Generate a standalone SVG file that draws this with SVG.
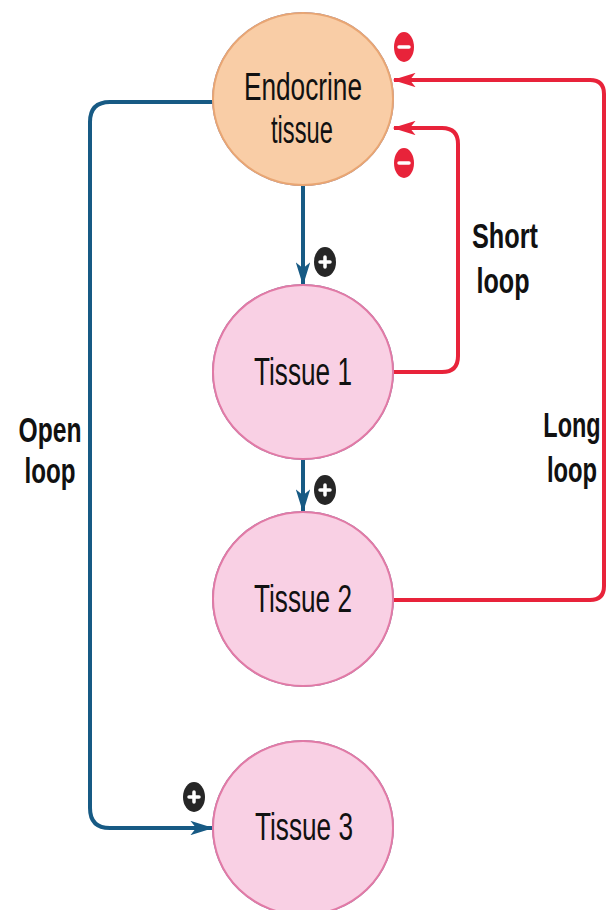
<svg xmlns="http://www.w3.org/2000/svg" width="606" height="910" viewBox="0 0 606 910">
  <style>
    .lbl { font-family: "Liberation Sans", Arial, sans-serif; fill: #111; }
    .node-text { font-size: 38px; text-anchor: middle; }
    .loop-text { font-size: 35px; font-weight: bold; text-anchor: middle; }
    .blue { fill: none; stroke: #175a84; stroke-width: 4; stroke-linejoin: round; }
    .red { fill: none; stroke: #e8233a; stroke-width: 4; stroke-linejoin: round; }
    .endo { fill: #f9cda6; stroke: #e9a673; stroke-width: 2; }
    .tissue { fill: #f9d0e4; stroke: #e27aa6; stroke-width: 2; }
    .plus { fill: #262626; }
    .minus { fill: #e8233a; }
    .sign { stroke: #fff; stroke-width: 3.5; stroke-linecap: round; }
  </style>
  <defs>
    <filter id="shade" x="-30%" y="-30%" width="170%" height="170%">
      <feGaussianBlur in="SourceAlpha" stdDeviation="8"/>
      <feOffset dx="9" dy="9"/>
      <feComponentTransfer><feFuncA type="linear" slope="0.22"/></feComponentTransfer>
      <feFlood flood-color="#5d7fa6"/>
      <feComposite operator="in" in2="SourceAlpha"/>
      <feMerge><feMergeNode/><feMergeNode in="SourceGraphic"/></feMerge>
    </filter>
    <marker id="arrBlue" viewBox="0 0 16 10" refX="15" refY="5" markerWidth="6" markerHeight="3.6" orient="auto" markerUnits="strokeWidth">
      <path d="M0,0 L16,5 L0,10 L4,5 Z" fill="#175a84"/>
    </marker>
    <marker id="arrRed" viewBox="0 0 16 10" refX="15" refY="5" markerWidth="6" markerHeight="3.6" orient="auto" markerUnits="strokeWidth">
      <path d="M0,0 L16,5 L0,10 L4,5 Z" fill="#e8233a"/>
    </marker>
  </defs>
  <rect width="606" height="910" fill="#fff"/>

  <!-- connectors -->
  <g id="connectors">
    <path class="blue" d="M213,102 H110 Q90,102 90,122 V808 Q90,828 110,828 H212" marker-end="url(#arrBlue)"/>
    <path class="blue" d="M303,186 V284" marker-end="url(#arrBlue)"/>
    <path class="blue" d="M303,460 V511" marker-end="url(#arrBlue)"/>
    <path class="red" d="M393,372 H442 Q458,372 458,356 V144 Q458,128 442,128 H394" marker-end="url(#arrRed)"/>
    <path class="red" d="M393,600 H590 Q604,600 604,586 V94 Q604,80 590,80 H394" marker-end="url(#arrRed)"/>
  </g>

  <!-- sign badges -->
  <g id="signs">
    <ellipse class="minus" cx="404" cy="47" rx="10" ry="15"/>
    <line class="sign" x1="399" y1="47" x2="409" y2="47"/>
    <ellipse class="minus" cx="404" cy="163" rx="10" ry="15"/>
    <line class="sign" x1="399" y1="163" x2="409" y2="163"/>
    <ellipse class="plus" cx="325" cy="262" rx="11" ry="15"/>
    <path class="sign" d="M320,262 H330 M325,257 V267"/>
    <ellipse class="plus" cx="325" cy="490" rx="11" ry="15"/>
    <path class="sign" d="M320,490 H330 M325,485 V495"/>
    <ellipse class="plus" cx="194" cy="797" rx="11" ry="15"/>
    <path class="sign" d="M189,797 H199 M194,792 V802"/>
  </g>

  <g id="endocrine" filter="url(#shade)">
    <ellipse class="endo" cx="303" cy="99" rx="90" ry="86"/>
  </g>
  <g id="endocrine-label">
    <text class="lbl node-text" x="303" y="100" textLength="118" lengthAdjust="spacingAndGlyphs">Endocrine</text>
    <text class="lbl node-text" x="302" y="143" textLength="62" lengthAdjust="spacingAndGlyphs">tissue</text>
  </g>

  <g id="tissue1" filter="url(#shade)">
    <ellipse class="tissue" cx="303" cy="372" rx="90" ry="87"/>
  </g>
  <text class="lbl node-text" x="303" y="385" textLength="98" lengthAdjust="spacingAndGlyphs">Tissue 1</text>

  <g id="tissue2" filter="url(#shade)">
    <ellipse class="tissue" cx="303" cy="599" rx="90" ry="87"/>
  </g>
  <text class="lbl node-text" x="303" y="612" textLength="98" lengthAdjust="spacingAndGlyphs">Tissue 2</text>

  <g id="tissue3" filter="url(#shade)">
    <ellipse class="tissue" cx="303" cy="828" rx="90" ry="87"/>
  </g>
  <text class="lbl node-text" x="304" y="840" textLength="98" lengthAdjust="spacingAndGlyphs">Tissue 3</text>

  <!-- loop labels -->
  <g id="labels">
    <text class="lbl loop-text" x="505" y="248" textLength="66" lengthAdjust="spacingAndGlyphs">Short</text>
    <text class="lbl loop-text" x="503" y="293" textLength="53" lengthAdjust="spacingAndGlyphs">loop</text>
    <text class="lbl loop-text" transform="translate(572,437) scale(0.67,1)">Long</text>
    <text class="lbl loop-text" transform="translate(572,482) scale(0.68,1)">loop</text>
    <text class="lbl loop-text" x="50" y="442" textLength="63" lengthAdjust="spacingAndGlyphs">Open</text>
    <text class="lbl loop-text" x="50" y="483" textLength="51" lengthAdjust="spacingAndGlyphs">loop</text>
  </g>
</svg>
